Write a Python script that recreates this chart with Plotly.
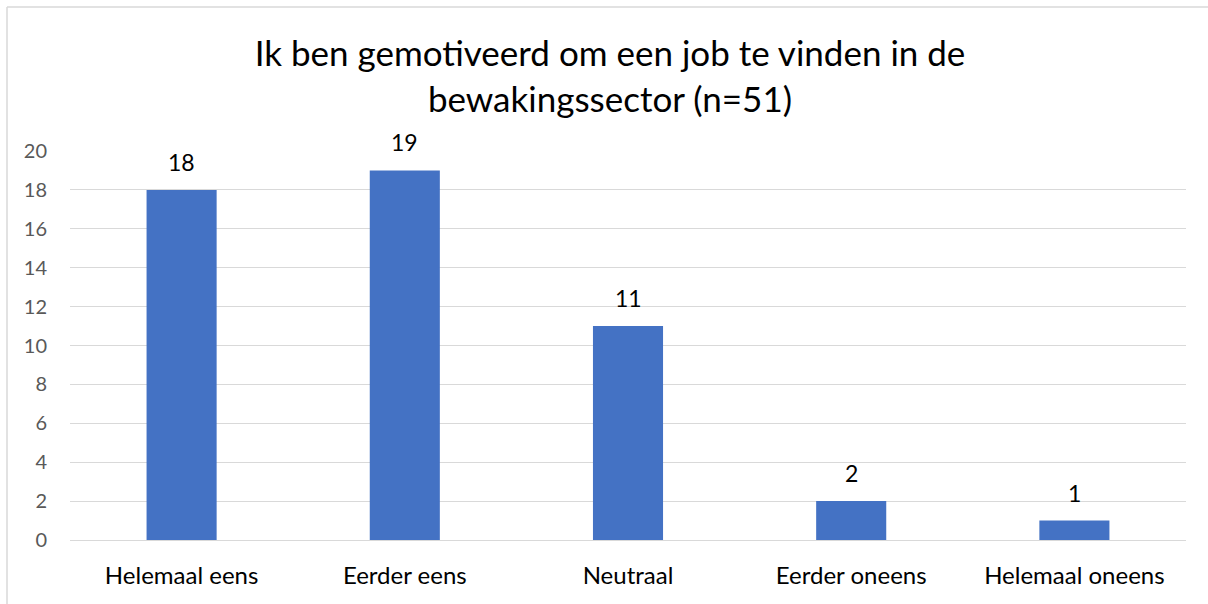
import plotly.graph_objects as go

categories = ["Helemaal eens", "Eerder eens", "Neutraal", "Eerder oneens", "Helemaal oneens"]
values = [18, 19, 11, 2, 1]
y_ticks = [0, 2, 4, 6, 8, 10, 12, 14, 16, 18, 20]
title_text = "Ik ben gemotiveerd om een job te vinden in de<br>bewakingssector (n=51)"

W, H = 1208, 604
ml, mr, mt, mb = 70, 22, 151, 64
pw = W - ml - mr
ph = H - mt - mb
FONT = "Lato, Open Sans, sans-serif"

fig = go.Figure()
fig.add_trace(go.Bar(
    x=categories, y=values,
    marker=dict(color="#4472C4", line=dict(width=0)),
    hoverinfo="x+y",
))

for c, v in zip(categories, values):
    fig.add_annotation(x=c, y=v, text=str(v), showarrow=False,
                       yanchor="bottom", yshift=12,
                       font=dict(family=FONT, size=23, color="#000000"))

# outer chart border (left and top, as in the reference)
bx0 = (7 - ml) / pw
by1 = (H - 7 - mb) / ph
fig.add_shape(type="line", xref="paper", yref="paper", x0=bx0, x1=(W - ml) / pw + 0.01,
              y0=by1, y1=by1, line=dict(color="#d9d9d9", width=1.5))
fig.add_shape(type="line", xref="paper", yref="paper", x0=bx0, x1=bx0,
              y0=by1, y1=-mb / ph - 0.01, line=dict(color="#d9d9d9", width=1.5))

fig.update_layout(
    width=W, height=H,
    margin=dict(l=ml, r=mr, t=mt, b=mb),
    paper_bgcolor="white", plot_bgcolor="white",
    bargap=0.686,
    showlegend=False,
    font=dict(family=FONT),
    title=dict(text=title_text, x=610 / W, xanchor="center", xref="container",
               y=1 - 66 / H, yanchor="top", yref="container",
               font=dict(family=FONT, size=35, color="#000000")),
    xaxis=dict(showgrid=False, showline=False, zeroline=False, ticks="",
               tickfont=dict(size=24, color="#000000"), ticklabelstandoff=19),
    yaxis=dict(range=[0, 20], tickvals=y_ticks, showgrid=True, gridcolor="#d9d9d9",
               gridwidth=1, zeroline=True, zerolinecolor="#d9d9d9", zerolinewidth=1,
               showline=False, ticks="", ticklabelstandoff=22,
               tickfont=dict(size=20, color="#595959")),
)

fig.write_html("out.html", config={"displayModeBar": False},
               post_script="document.body.style.margin='0';document.body.style.overflow='hidden';")
